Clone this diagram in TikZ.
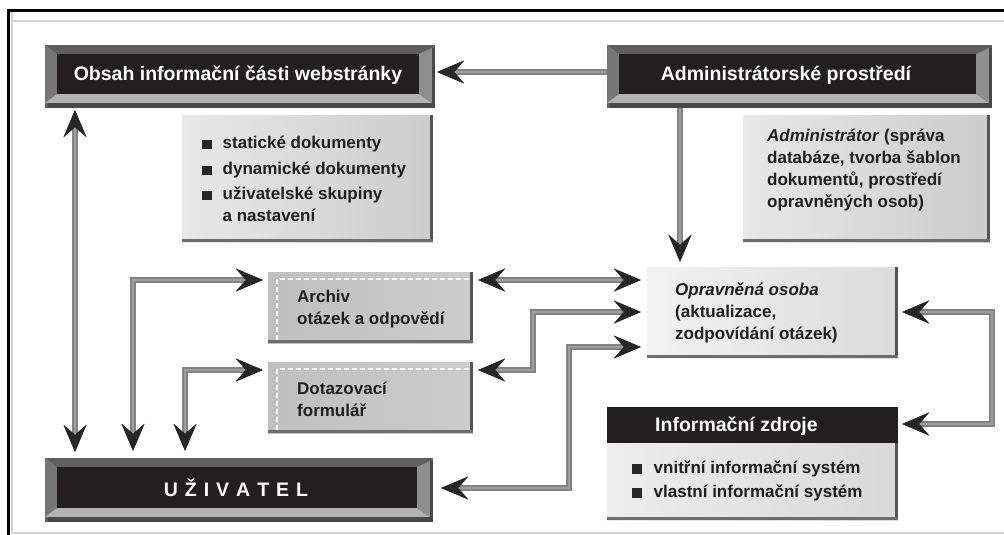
\documentclass[tikz,border=0pt]{standalone}
\usepackage{fontspec}
\setmainfont{Liberation Sans}
\usetikzlibrary{arrows.meta,backgrounds}
\definecolor{boxblack}{HTML}{231F20}
\definecolor{bvbase}{HTML}{5E5E5E}
\definecolor{bvleft}{HTML}{767676}
\definecolor{bvbot}{HTML}{B2B2B2}
\definecolor{bvright}{HTML}{8E8E8E}
\definecolor{bvshadow}{HTML}{484848}
\definecolor{connc}{HTML}{838383}
\definecolor{conninner}{HTML}{9E9E9E}
\definecolor{tipc}{HTML}{262626}
\definecolor{edgec}{HTML}{555555}
\newcommand\sqb{\textcolor{black!85}{\rule[-0.5pt]{9.5pt}{9.5pt}}}
% bevel details over an outer box x1 y1 x2 y2
\newcommand\bevelbox[4]{%
  \fill[bvleft] (#1,#2) -- ({#1+12},{#2+9}) -- ({#1+12},{#4-14}) -- (#1,{#4-5}) -- cycle;
  \fill[bvbot] (#1,{#4-5}) -- ({#1+12},{#4-14}) -- ({#3-16},{#4-14}) -- ({#3-3},{#4-5}) -- cycle;
  \fill[bvright] ({#3-16},{#2+9}) -- ({#3-3},{#2+3}) -- ({#3-3},{#4-5}) -- ({#3-16},{#4-14}) -- cycle;
  \fill[bvshadow] ({#1+3},{#4-5}) rectangle (#3,#4);
  \fill[bvshadow] ({#3-3},{#2+3}) rectangle (#3,#4);
  \fill[boxblack] ({#1+12},{#2+9}) rectangle ({#3-16},{#4-14});
}
% dark right and bottom edges of a grey box
\newcommand\edges[4]{%
  \fill[edgec] ({#3-3},#2) rectangle (#3,#4);
  \fill[edgec!85] (#1,{#4-3}) rectangle (#3,#4);
}
\begin{document}
\begin{tikzpicture}[x=1pt,y=-1pt,
  bvnode/.style={fill=bvbase, inner sep=0pt},
  lightbox/.style={inner sep=0pt, left color=gray!18, right color=gray!40},
  midbox/.style={inner sep=0pt, left color=gray!50, right color=gray!40},
  hdr/.style={text=white, inner sep=0pt, font=\fontsize{19.5}{22}\selectfont\bfseries},
  body/.style={text=black!88, inner sep=0pt, align=left, font=\fontsize{17}{22}\selectfont\bfseries},
  conn/.style={draw=connc, line width=5.5pt, postaction={draw=conninner, line width=2pt}},
  >={Stealth[length=27pt,width=23pt,inset=10pt,line width=0pt,color=tipc]}]
\useasboundingbox (0,0) rectangle (1004,535);
\fill[white] (0,0) rectangle (1004,535);
% frame
\draw[gray!35, line width=1.5pt] (12,533) -- (1004,533);
\draw[gray!35, line width=1.5pt] (12,12) -- (12,533);
\draw[gray!35, line width=1.5pt] (12,21) -- (1004,21);
\draw[black, line width=3pt] (8,535) -- (8,10.5) -- (1004,10.5);

% level coordinates
\coordinate (L72) at (0,72);
\coordinate (L280) at (0,280);
\coordinate (L312) at (0,312);
\coordinate (L347) at (0,347);
\coordinate (L370) at (0,370);
\coordinate (L423) at (0,424);
\coordinate (L488) at (0,488);
\coordinate (X75) at (75,0);
\coordinate (X133) at (133,0);
\coordinate (X185) at (185,0);
\coordinate (X533) at (533,0);
\coordinate (X570) at (569,0);
\coordinate (X680) at (680,0);
\coordinate (X992) at (992,0);

% Obsah
\node[bvnode, minimum width=390pt, minimum height=63pt] (obsah) at (240,76.5) {};
\bevelbox{45}{45}{435}{108}
\node[hdr] (obsahtxt) at (238,75) {Obsah informační části webstránky};

% Admin
\node[bvnode, minimum width=385pt, minimum height=63pt] (admin) at (799.5,76.5) {};
\bevelbox{607}{45}{992}{108}
\node[hdr] (admintxt) at (786,75) {Administrátorské prostředí};

% list box
\node[lightbox, minimum width=251pt, minimum height=127pt] (list) at (307.5,178.5) {};
\edges{182}{115}{433}{242}
\node[body, anchor=west] (listtxt) at (202,181) {%
  \begin{tabular}{@{}l@{\hspace{11pt}}l@{}}
  \sqb & statické dokumenty\\[4pt]
  \sqb & dynamické dokumenty\\[3pt]
  \sqb & uživatelské skupiny\\
       & a nastavení
  \end{tabular}};

% admin text box
\node[lightbox, minimum width=247pt, minimum height=127pt] (admbox) at (866.5,178.5) {};
\edges{743}{115}{990}{242}
\node[body, anchor=west] (admboxtxt) at (767,170) {\textit{Administrátor} (správa\\databáze, tvorba šablon\\dokumentů, prostředí\\opravněných osob)};

% Opravnena osoba
\node[inner sep=0pt, left color=gray!10, right color=gray!28, minimum width=251pt, minimum height=91pt] (oprav) at (772.5,312.5) {};
\edges{647}{267}{898}{358}
\node[body, anchor=west] (opravtxt) at (675,312.5) {\textit{Opravněná osoba}\\(aktualizace,\\zodpovídání otázek)};

% Archiv
\node[midbox, minimum width=205pt, minimum height=71pt] (archiv) at (370.5,307.5) {};
\edges{268}{272}{473}{343}
\draw[white, line width=1.3pt, dash pattern=on 5pt off 3pt] (277,340) -- (277,279) -- (470,279);
\node[body, anchor=west] (archtxt) at (297,309.5) {Archiv\\otázek a odpovědí};

% Dotazovaci
\node[midbox, minimum width=205pt, minimum height=71pt] (dotaz) at (370.5,397.5) {};
\edges{268}{362}{473}{433}
\draw[white, line width=1.3pt, dash pattern=on 5pt off 3pt] (277,430) -- (277,369) -- (470,369);
\node[body, anchor=west] (dotaztxt) at (297,399.5) {Dotazovací\\formulář};

% Informacni zdroje
\node[inner sep=0pt, left color=gray!14, right color=gray!30, minimum width=291pt, minimum height=113pt] (zdroje) at (752.5,463.5) {};
\fill[boxblack] (607,407) rectangle (898,443);
\edges{607}{443}{898}{520}
\node[hdr, anchor=west] (zdrojetxt) at (655,426) {Informační zdroje};
\node[body, anchor=west] (zdrlist) at (632,481) {%
  \begin{tabular}{@{}l@{\hspace{12pt}}l@{}}
  \sqb & vnitřní informační systém\\[2pt]
  \sqb & vlastní informační systém
  \end{tabular}};

% Uzivatel
\node[bvnode, minimum width=388pt, minimum height=64pt] (uziv) at (239,490) {};
\bevelbox{45}{458}{433}{522}
\node[hdr] (uzivtxt) at (236,488) {U\hspace{7pt}Ž\hspace{7pt}I\hspace{7pt}V\hspace{7pt}A\hspace{7pt}T\hspace{7pt}E\hspace{7pt}L};

% connectors
\draw[conn,->,shorten >=2pt] (admin.west |- L72) -- (obsah.east |- L72);
\draw[conn,->,shorten >=5pt] (admin.south -| X680) -- (oprav.north -| X680);
\draw[conn,<->,shorten <=2pt,shorten >=6pt] (obsah.south -| X75) -- (uziv.north -| X75);
\draw[conn,<->,shorten <=7pt,shorten >=5pt] (uziv.north -| X133) -- (X133 |- L280) -- (archiv.west |- L280);
\draw[conn,<->,shorten <=7pt,shorten >=5pt] (uziv.north -| X185) -- (X185 |- L370) -- (dotaz.west |- L370);
\draw[conn,<->,shorten <=5pt,shorten >=6pt] (archiv.east |- L280) -- (oprav.west |- L280);
\draw[conn,<->,shorten <=5pt,shorten >=6pt] (dotaz.east |- L370) -- (X533 |- L370) -- (X533 |- L312) -- (oprav.west |- L312);
\draw[conn,<->,shorten <=8pt,shorten >=6pt] (uziv.east |- L488) -- (X570 |- L488) -- (X570 |- L347) -- (oprav.west |- L347);
\draw[conn,<->,shorten <=4pt,shorten >=4pt] (oprav.east |- L312) -- (X992 |- L312) -- (X992 |- L423) -- (zdroje.east |- L423);
\end{tikzpicture}
\end{document}
